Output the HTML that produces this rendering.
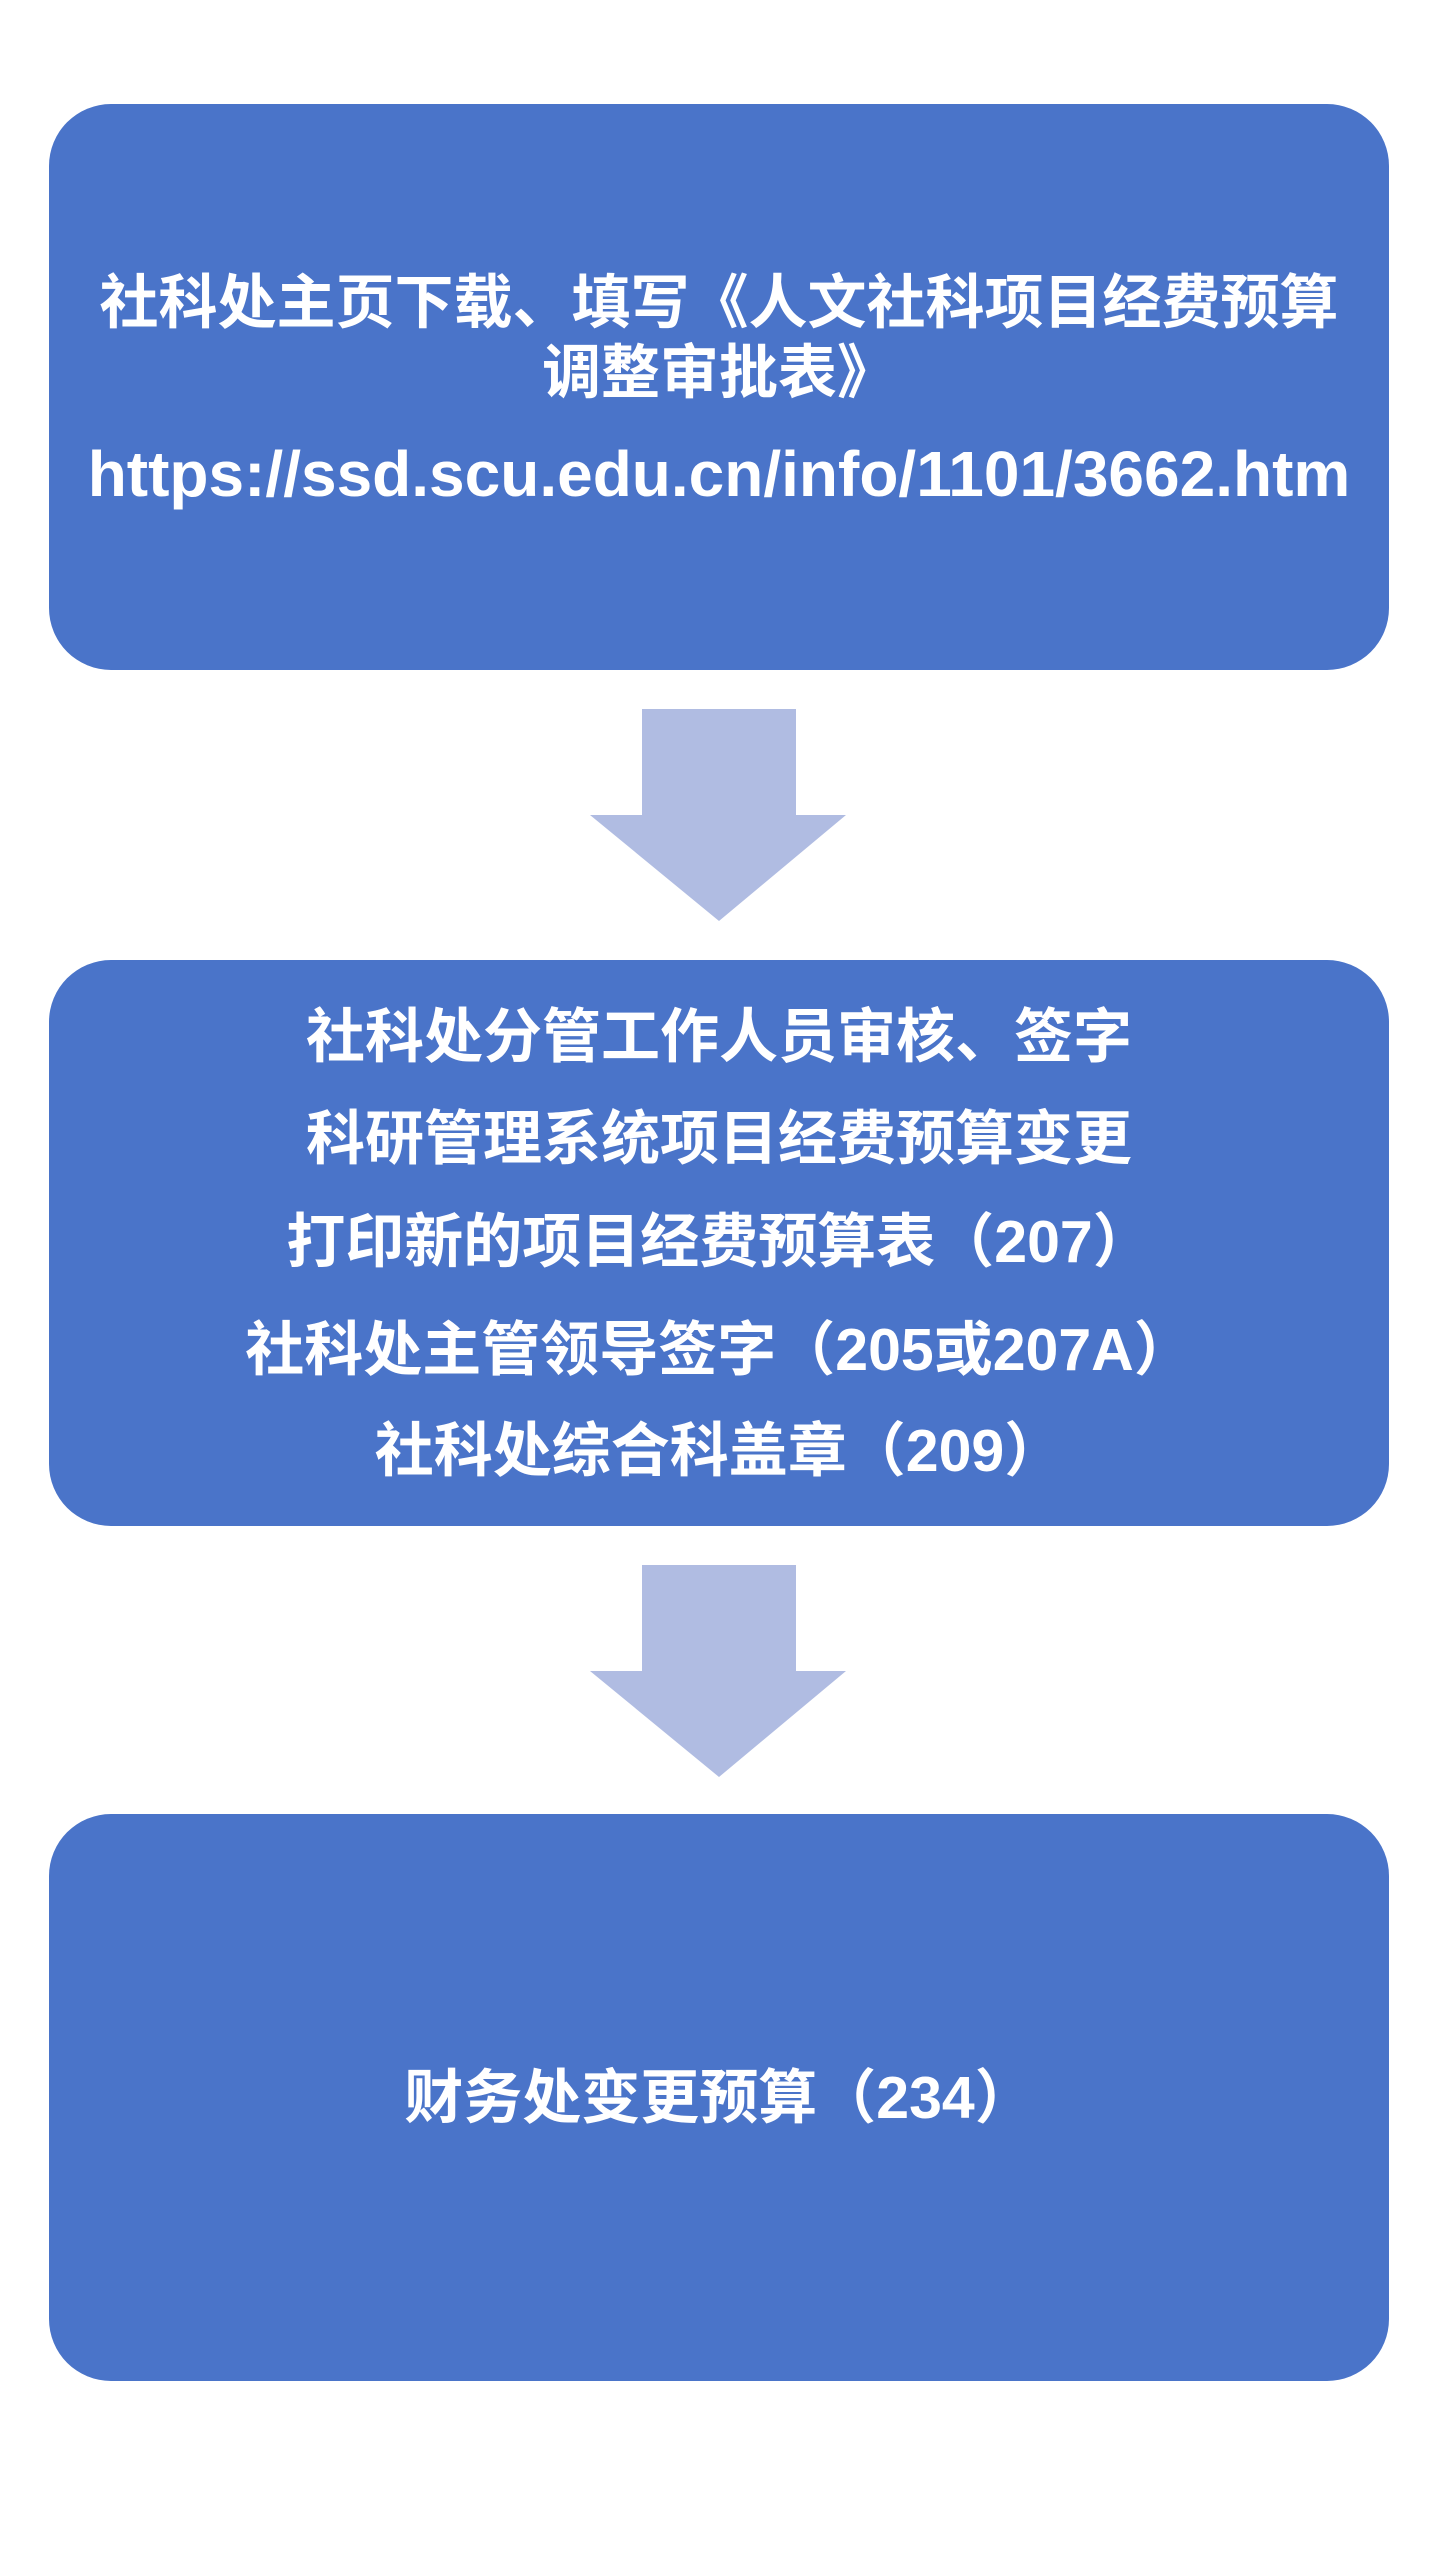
<!DOCTYPE html>
<html><head><meta charset="utf-8"><style>
body{margin:0;width:1440px;height:2560px;background:#fff;position:relative;overflow:hidden;font-family:"Liberation Sans","Noto Sans CJK SC",sans-serif;font-weight:bold;color:#fff}
.box{position:absolute;left:49px;width:1340px;background:#4a74c9;border-radius:62px}
.t{position:absolute;left:0;width:100%;text-align:center;font-size:59px;line-height:1;white-space:nowrap}
</style></head><body>
<div class="box" style="top:104px;height:566px">
<div class="t" style="top:170px">社科处主页下载、填写《人文社科项目经费预算</div>
<div class="t" style="top:240px">调整审批表》</div>
<div class="t" style="top:338px;font-size:64px">https://ssd.scu.edu.cn/info/1101/3662.htm</div>
</div>
<svg style="position:absolute;left:0;top:0" width="1440" height="2560">
<polygon points="642,709 796,709 796,815 846,815 719,921 590,815 642,815" fill="#b0bce2"/>
<polygon points="642,1565 796,1565 796,1671 846,1671 719,1777 590,1671 642,1671" fill="#b0bce2"/>
</svg>
<div class="box" style="top:960px;height:566px">
<div class="t" style="top:48px">社科处分管工作人员审核、签字</div>
<div class="t" style="top:150px">科研管理系统项目经费预算变更</div>
<div class="t" style="top:253px">打印新的项目经费预算表（207）</div>
<div class="t" style="top:361px">社科处主管领导签字（205或207A）</div>
<div class="t" style="top:462px">社科处综合科盖章（209）</div>
</div>
<div class="box" style="top:1814px;height:567px">
<div class="t" style="top:255px">财务处变更预算（234）</div>
</div>
</body></html>
